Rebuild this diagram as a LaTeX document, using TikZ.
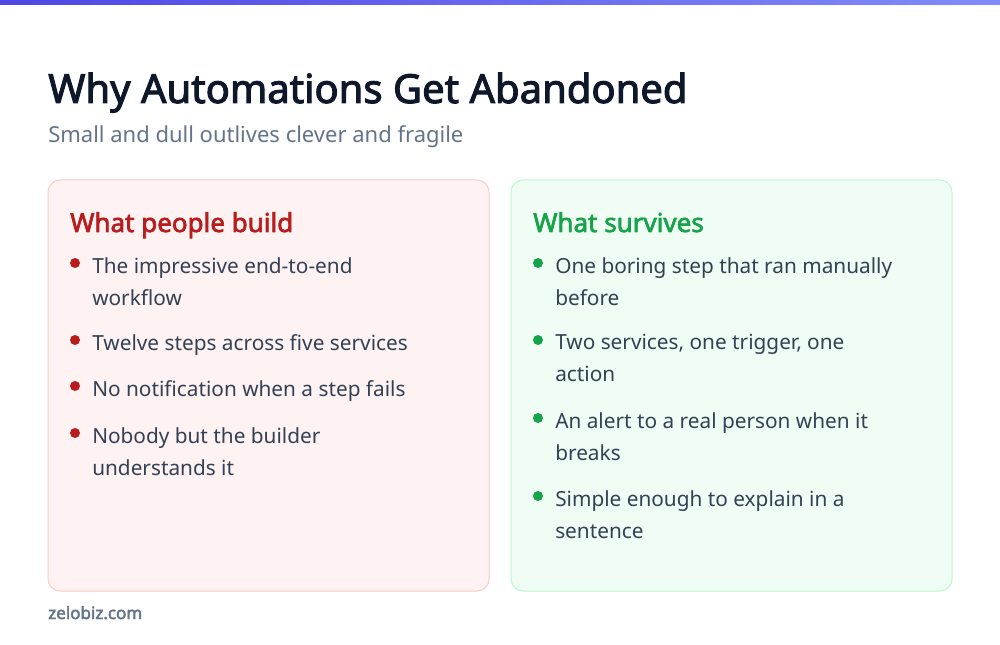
\documentclass[tikz,border=0pt]{standalone}
\usepackage{fontspec}
\setmainfont{Noto Sans}[AutoFakeBold=2.5]
\definecolor{titlec}{HTML}{0F172A}
\definecolor{subc}{HTML}{64748B}
\definecolor{bodyc}{HTML}{334155}
\definecolor{redc}{HTML}{B91C1C}
\definecolor{redfill}{HTML}{FEF2F2}
\definecolor{redline}{HTML}{FECACA}
\definecolor{grnc}{HTML}{16A34A}
\definecolor{grnfill}{HTML}{F0FDF4}
\definecolor{grnline}{HTML}{BBF7D0}
\definecolor{barl}{HTML}{4F46E5}
\definecolor{barr}{HTML}{818CF8}
\begin{document}
\begin{tikzpicture}[x=0.75pt,y=-0.75pt,
  card/.style={rounded corners=9pt,line width=0.75pt},
  head/.style={anchor=base west,inner sep=0pt,font=\fontsize{19.5}{24}\selectfont\bfseries},
  item/.style={anchor=north west,inner sep=0pt,text=bodyc,align=left,font=\fontsize{15.6}{24}\selectfont},
  dot/.style={circle,inner sep=0pt,minimum size=7.5pt}]
\useasboundingbox[fill=white] (0,0) rectangle (1000,645);
\shade[left color=barl,right color=barr] (0,0) rectangle (1000,5);
\node[anchor=base west,inner sep=0pt,text=titlec,font=\fontsize{30}{36}\selectfont\bfseries] (title) at (48,103) {Why Automations Get Abandoned};
\node[anchor=base west,inner sep=0pt,text=subc,font=\fontsize{16.5}{20}\selectfont] (sub) at (48,143) {Small and dull outlives clever and fragile};
\draw[card,fill=redfill,draw=redline] (48,180) rectangle (489,591);
\draw[card,fill=grnfill,draw=grnline] (511,180) rectangle (952,591);
\node[head,text=redc] (lh) at (70,232) {What people build};
\node[head,text=grnc] (rh) at (533,232) {What survives};
\foreach \y/\t [count=\i] in {274/{The impressive end-to-end\\workflow},351/{Twelve steps across five services},397/{No notification when a step fails},444/{Nobody but the builder\\understands it}}{
  \node[dot,fill=redc] (ld\i) at (75,\y-11) {};
  \node[item] (li\i) at (92,\y-17) {\t};
}
\foreach \y/\t [count=\i] in {274/{One boring step that ran manually\\before},351/{Two services, one trigger, one\\action},429/{An alert to a real person when it\\breaks},507/{Simple enough to explain in a\\sentence}}{
  \node[dot,fill=grnc] (rd\i) at (538,\y-11) {};
  \node[item] (ri\i) at (555,\y-17) {\t};
}
\node[anchor=base west,inner sep=0pt,text=subc,font=\fontsize{12.75}{15}\selectfont\bfseries] (foot) at (48,619) {zelobiz.com};
\end{tikzpicture}
\end{document}
